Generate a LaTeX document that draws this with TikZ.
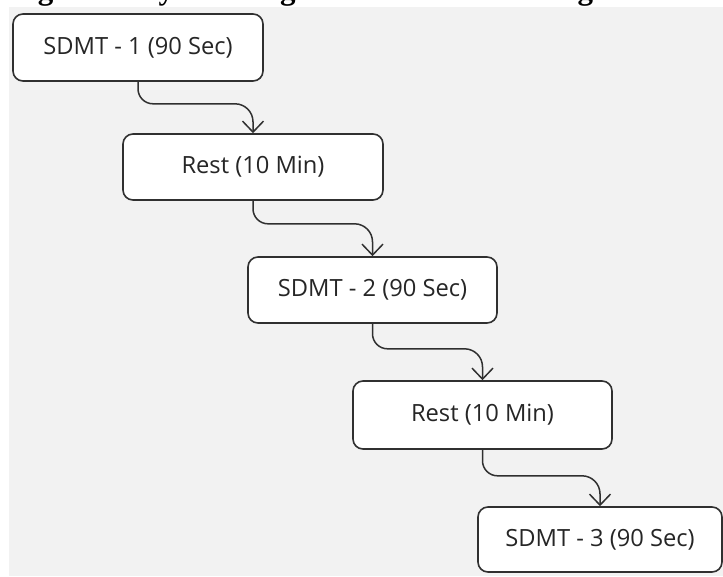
\documentclass[tikz,border=0pt]{standalone}
\usepackage{fontspec}
\setmainfont{Liberation Serif}
\newfontfamily\boxfont{Open Sans}
\usetikzlibrary{arrows.meta}
\definecolor{pagegray}{HTML}{F2F2F2}
\definecolor{ink}{HTML}{303030}
\definecolor{labelink}{HTML}{262626}
\begin{document}
\begin{tikzpicture}[x=1pt,y=-1pt,
  stepbox/.style={draw=ink, line width=1.6pt, rounded corners=10pt, fill=white,
    inner sep=0pt, text=labelink, font=\boxfont\fontsize{23.7}{28}\selectfont},
  flow/.style={draw=ink, line width=1.5pt,
    -{Straight Barb[length=11pt,width=21pt]}}]
  % page and panel
  \useasboundingbox (0,0) rectangle (723,576);
  \fill[white] (0,0) rectangle (723,576);
  \fill[pagegray] (9,7) rectangle (723,576);
  % caption line, cut by the top edge
  \begin{scope}
    \clip (0,0) rectangle (723,7);
    \node[anchor=base west, inner sep=0pt, font=\bfseries\fontsize{31}{31}\selectfont]
      (caption) at (10,-0.3) {Figure 3: Symbol Digit Modalities Test Diagram};
  \end{scope}
  % steps
  \node[stepbox, minimum width=250pt, minimum height=67pt] (s1) at (138,47.5) {SDMT - 1 (90 Sec)};
  \node[stepbox, minimum width=260pt, minimum height=66pt] (r1) at (253,167) {Rest (10 Min)};
  \node[stepbox, minimum width=249pt, minimum height=66pt] (s2) at (372.5,290) {SDMT - 2 (90 Sec)};
  \node[stepbox, minimum width=259pt, minimum height=68pt] (r2) at (482.5,415) {Rest (10 Min)};
  \node[stepbox, minimum width=244pt, minimum height=65pt] (s3) at (600,539.5) {SDMT - 3 (90 Sec)};
  % connectors: drop, run across, drop into the next step
  \draw[flow] (s1.south) [rounded corners=15pt] -- ++(0,22) [rounded corners=18pt] -| (r1.north);
  \draw[flow] (r1.south) [rounded corners=15pt] -- ++(0,23) [rounded corners=18pt] -| (s2.north);
  \draw[flow] (s2.south) [rounded corners=15pt] -- ++(0,25) [rounded corners=18pt] -| (r2.north);
  \draw[flow] (r2.south) [rounded corners=15pt] -- ++(0,26) [rounded corners=18pt] -| (s3.north);
\end{tikzpicture}
\end{document}
